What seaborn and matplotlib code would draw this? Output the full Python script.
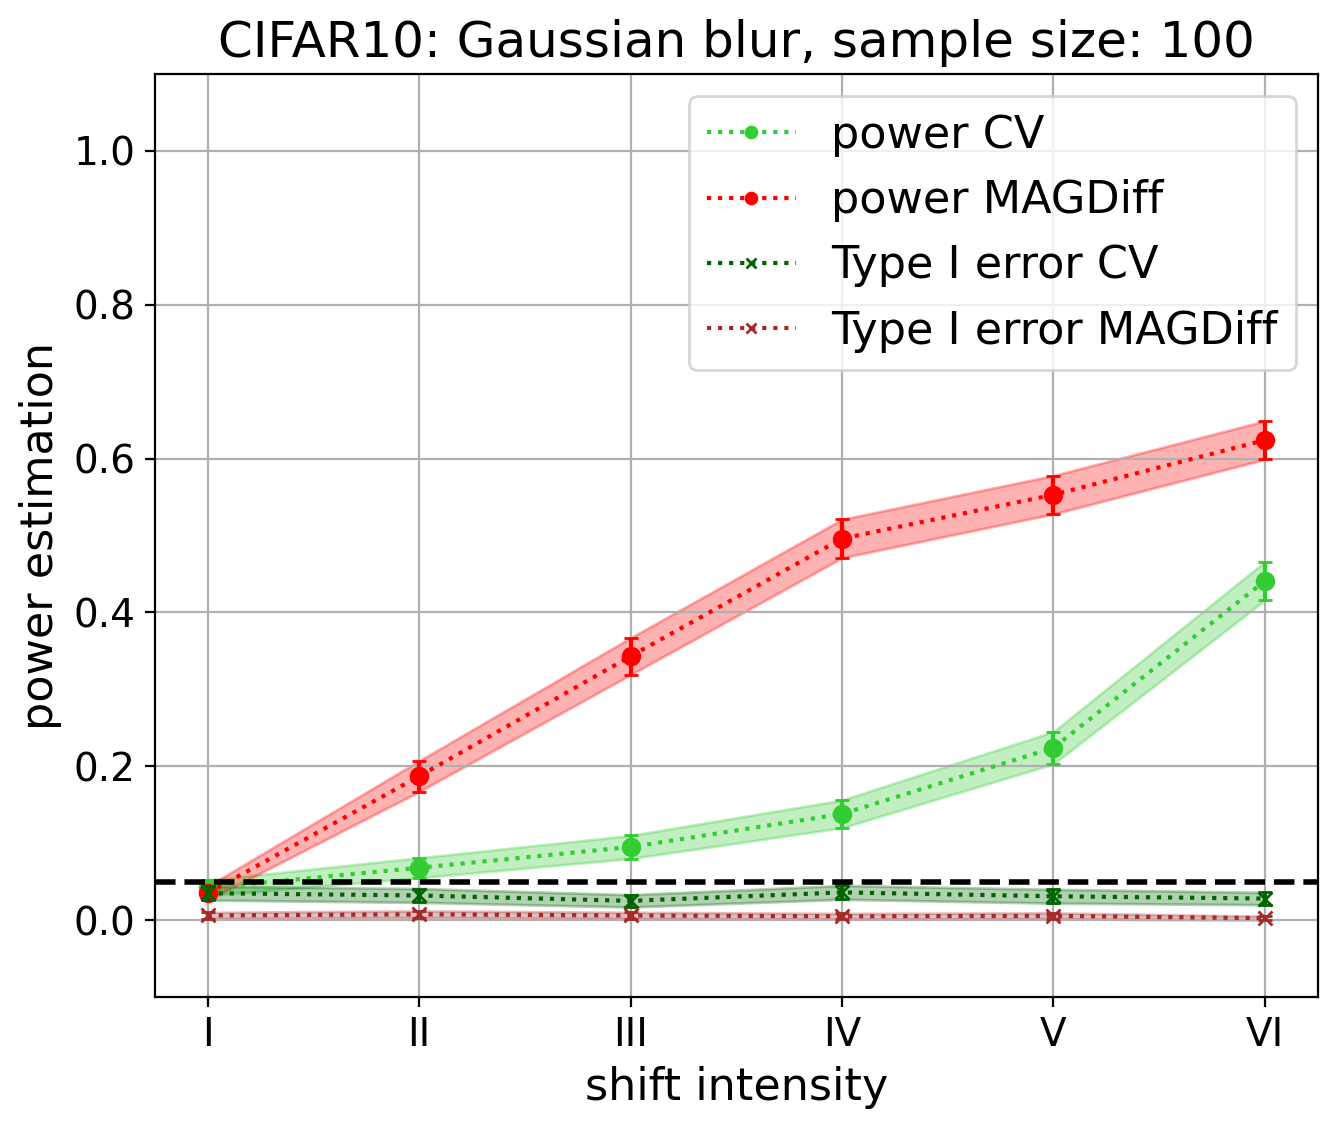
import numpy as np
import matplotlib
matplotlib.use("Agg")
import matplotlib.pyplot as plt
import seaborn as sns

# values
levels = ['I', 'II', 'III', 'IV', 'V', 'VI']

power_cv = [0.042, 0.068, 0.095, 0.138, 0.224, 0.441]
power_cv_err = [0.010, 0.013, 0.015, 0.018, 0.021, 0.025]

power_mag = [0.035, 0.187, 0.343, 0.496, 0.553, 0.624]
power_mag_err = [0.009, 0.020, 0.024, 0.025, 0.025, 0.025]

type1_cv = [0.035, 0.032, 0.025, 0.036, 0.031, 0.028]
type1_cv_err = [0.009, 0.009, 0.008, 0.009, 0.009, 0.008]

type1_mag = [0.006, 0.0075, 0.006, 0.005, 0.0055, 0.0025]
type1_mag_err = [0.004, 0.0044, 0.004, 0.0036, 0.0038, 0.0025]

alpha_level = 0.05

series = [
    ('power CV', power_cv, power_cv_err, 'limegreen', 'o', 6),
    ('power MAGDiff', power_mag, power_mag_err, 'red', 'o', 6),
    ('Type I error CV', type1_cv, type1_cv_err, 'darkgreen', 'x', 5),
    ('Type I error MAGDiff', type1_mag, type1_mag_err, 'brown', 'x', 5),
]

x = np.arange(len(levels))

fig, ax = plt.subplots(figsize=(6.69, 5.65), dpi=200)
fig.subplots_adjust(left=0.1157, right=0.9849, top=0.9345, bottom=0.1177)

for name, vals, err, c, m, ms in series:
    vals = np.array(vals)
    err = np.array(err)
    sns.lineplot(x=x, y=vals, ax=ax, color=c, marker=m, linestyle=':',
                 linewidth=1.5, markersize=ms, markeredgecolor=c,
                 markeredgewidth=1, label=name)
    ax.errorbar(x, vals, yerr=err, fmt='none', ecolor=c, capsize=2.5,
                elinewidth=1.5)
    ax.fill_between(x, vals - err, vals + err, color=c, alpha=0.3)

ax.axhline(alpha_level, color='black', linestyle='--', linewidth=2)

ax.set_xlim(-0.25, 5.25)
ax.set_ylim(-0.1, 1.1)
ax.set_xticks(x)
ax.set_xticklabels(levels)
ax.set_yticks([0.0, 0.2, 0.4, 0.6, 0.8, 1.0])
ax.tick_params(labelsize=14)
ax.grid(True)
ax.set_xlabel('shift intensity', fontsize=16)
ax.set_ylabel('power estimation', fontsize=16)
ax.set_title('CIFAR10: Gaussian blur, sample size: 100', fontsize=18)
ax.legend(loc='upper right', fontsize=16, markerscale=0.65)

fig.savefig('out.png', dpi=200)
